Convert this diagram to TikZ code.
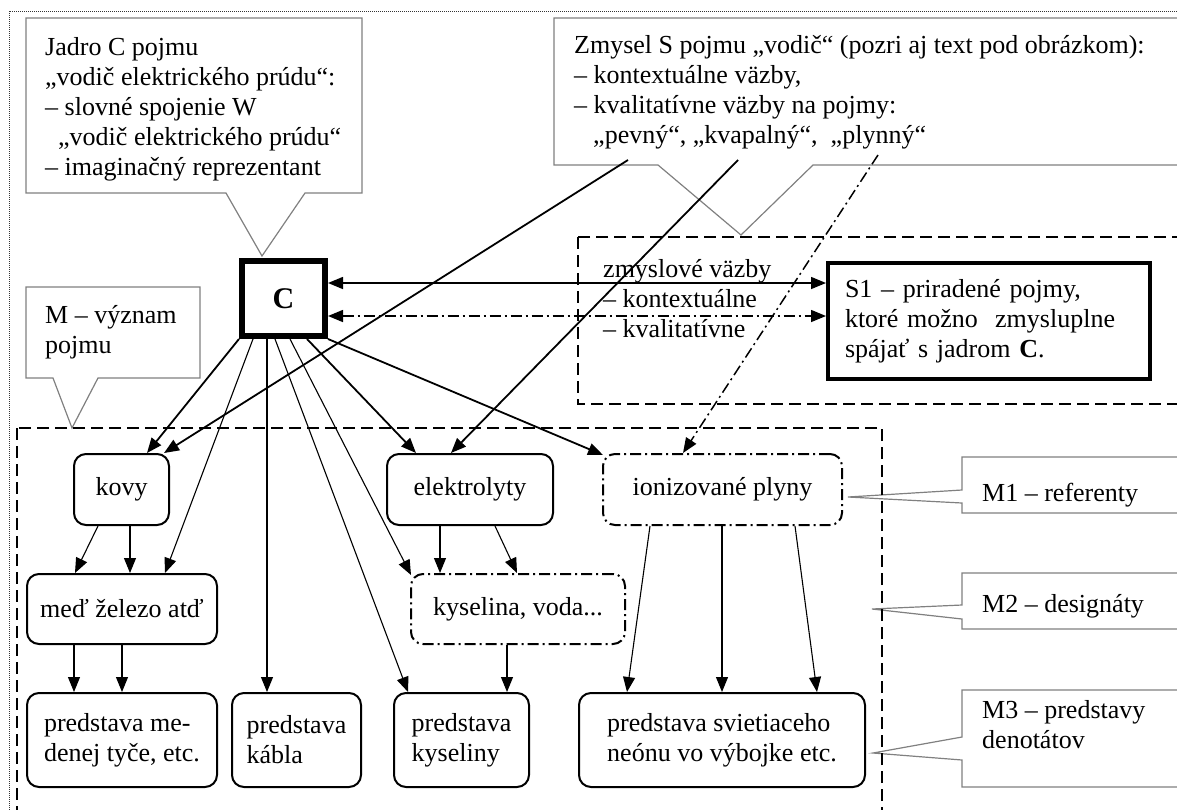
\documentclass[tikz,border=0pt]{standalone}
\usepackage{fontspec}
\setmainfont{Liberation Serif}
\usetikzlibrary{arrows.meta}
\begin{document}
\begin{tikzpicture}[x=1pt,y=-1pt,
  fs/.style={font=\fontsize{26}{30}\selectfont},
  txt/.style={fs, align=left, anchor=north west, inner sep=0pt},
  callout/.style={draw=gray, line width=1.2pt},
  frameline/.style={draw=black!80, line width=1pt, dash pattern=on 1pt off 1pt},
  dashbox/.style={draw, line width=1.5pt, dash pattern=on 12pt off 6pt},
  dashdot/.style={dash pattern=on 11pt off 4pt on 2pt off 4pt},
  rbox/.style={draw, line width=2pt, rounded corners=12pt, fs, align=left, inner sep=0pt},
  tip/.style={-{Triangle[length=15pt,width=12pt]}},
  boldarr/.style={tip, line width=1.8pt},
  thinarr/.style={tip, line width=1.1pt},
  biarr/.style={{Triangle[length=15pt,width=12pt]}-{Triangle[length=15pt,width=12pt]}, line width=1.5pt}
]
\useasboundingbox (0,0) rectangle (1177,809);
\clip (0,0) rectangle (1177,809);

% outer dotted frame
\draw[frameline] (9,11) rectangle (1200,830);

% callout bubbles
\draw[callout] (26,18) -- (362,18) -- (362,193) -- (305,193) -- (262,256) -- (226,193) -- (26,193) -- cycle;
\draw[callout] (554,18) -- (1200,18) -- (1200,165) -- (813,165) -- (741,235) -- (658,165) -- (554,165) -- cycle;
\draw[callout] (26,287) -- (200,287) -- (200,378) -- (98,378) -- (72,428) -- (53,378) -- (26,378) -- cycle;
\draw[callout] (962,457) -- (1200,457) -- (1200,513) -- (962,513) -- (962,503) -- (848,497) -- (962,490) -- cycle;
\draw[callout] (962,573) -- (1200,573) -- (1200,629) -- (962,629) -- (962,619) -- (872,609) -- (962,605) -- cycle;
\draw[callout] (962,690) -- (1200,690) -- (1200,787) -- (962,787) -- (962,760) -- (873,753) -- (962,737) -- cycle;

% callout texts
\node[txt] (jadro) at (45,37) {Jadro C pojmu\\„vodič elektrického prúdu“:\\– slovné spojenie W\\\hspace*{13pt}„vodič elektrického prúdu“\\– imaginačný reprezentant};
\node[txt] (zmysel) at (574,35) {Zmysel S pojmu „vodič“ (pozri aj text pod obrázkom):\\– kontextuálne väzby,\\– kvalitatívne väzby na pojmy:\\\hspace*{19pt}„pevný“, „kvapalný“,\ \ „plynný“};
\node[txt] (vyznam) at (45,305) {M – význam\\pojmu};
\node[txt] (m1) at (982,483) {M1 – referenty};
\node[txt] (m2) at (982,594) {M2 – designáty};
\node[txt] (m3) at (982,700) {M3 – predstavy\\denotátov};

% regions
\draw[dashbox] (578,237) rectangle (1200,404);
\draw[dashbox] (17,428) rectangle (882,830);
\node[txt] (vazby) at (603,259) {zmyslové väzby\\– kontextuálne\\– kvalitatívne};

% core and sense nodes
\node[draw, line width=6pt, minimum width=83pt, minimum height=75pt, inner sep=0pt,
      font=\fontsize{30}{34}\selectfont\bfseries] (C) at (283.5,298.5) {C};
\node[draw, line width=4pt, minimum width=322pt, minimum height=116pt, inner xsep=17pt, inner ysep=0pt,
      text width=288pt, align=left, fs] (S1) at (989,321) {S1 – priradené pojmy,\\ktoré možno\ \ zmysluplne\\spájať s jadrom \textbf{C}.};

% referents, designates, images
\node[rbox, minimum width=95pt, minimum height=71pt] (kovy) at (121.5,489.5) {kovy};
\node[rbox, minimum width=166pt, minimum height=71pt] (elek) at (470,489.5) {elektrolyty};
\node[rbox, dashdot, minimum width=239pt, minimum height=71pt] (ion) at (722.5,489.5) {ionizované plyny};
\node[rbox, minimum width=190pt, minimum height=70pt] (med) at (122,609) {meď železo atď};
\node[rbox, dashdot, minimum width=214pt, minimum height=70pt] (kys) at (518,609) {kyselina, voda...};
\node[rbox, minimum width=190pt, minimum height=94pt] (pmed) at (122,740) {predstava me-\\denej tyče, etc.};
\node[rbox, minimum width=129pt, minimum height=94pt] (kabla) at (296.5,740) {predstava\\kábla};
\node[rbox, minimum width=135pt, minimum height=94pt] (pkys) at (461.5,740) {predstava\\kyseliny};
\node[rbox, minimum width=286pt, minimum height=94pt] (neon) at (722,740) {predstava svietiaceho\\neónu vo výbojke etc.};

% anchors on the quoted words
\coordinate (pevny) at (628,160);
\coordinate (kvapalny) at (738,160);
\coordinate (plynny) at (878,155);

% links of the core
\draw[biarr] ([yshift=15.5pt]C.east) -- ([yshift=15.5pt]C.east -| S1.west);
\draw[biarr, dashdot] ([yshift=-17.5pt]C.east) -- ([yshift=-17.5pt]C.east -| S1.west);
\draw[boldarr] (C.south west) -- ([xshift=74pt]kovy.north west);
\draw[thinarr] ([xshift=14pt]C.south west) -- ([xshift=139pt]med.north west);
\draw[thinarr] ([xshift=28pt]C.south west) -- ([xshift=36pt]kabla.north west);
\draw[thinarr] ([xshift=36pt]C.south west) -- ([xshift=15pt]pkys.north west);
\draw[thinarr] ([xshift=51pt]C.south west) -- ([xshift=1pt,yshift=-2pt]kys.north west);
\draw[boldarr] ([xshift=68pt]C.south west) -- ([xshift=30pt]elek.north west);
\draw[boldarr] (C.south east) -- ([xshift=1pt,yshift=-2pt]ion.north west);

% links of the sense
\draw[boldarr] (pevny) -- ([xshift=-6pt]kovy.north east);
\draw[boldarr] (kvapalny) -- ([xshift=65pt]elek.north west);
\draw[tip, line width=1.5pt, dashdot] (plynny) -- ([xshift=81pt]ion.north west);

% lower links
\draw[thinarr] ([xshift=25pt]kovy.south west) -- ([xshift=49pt]med.north west);
\draw[thinarr] ([xshift=57pt]kovy.south west) -- ([xshift=104pt]med.north west);
\draw[thinarr] ([xshift=48pt]med.south west) -- ([xshift=48pt]pmed.north west);
\draw[thinarr] ([xshift=96pt]med.south west) -- ([xshift=96pt]pmed.north west);
\draw[thinarr] ([xshift=54pt]elek.south west) -- ([xshift=30pt]kys.north west);
\draw[thinarr] ([xshift=109pt]elek.south west) -- ([xshift=107pt]kys.north west);
\draw[thinarr] ([xshift=97pt]kys.south west) -- ([xshift=114pt]pkys.north west);
\draw[thinarr] ([xshift=48pt]ion.south west) -- ([xshift=49pt]neon.north west);
\draw[thinarr] ([xshift=120pt]ion.south west) -- ([xshift=144pt]neon.north west);
\draw[thinarr] ([xshift=193pt]ion.south west) -- ([xshift=239pt]neon.north west);
\end{tikzpicture}
\end{document}
